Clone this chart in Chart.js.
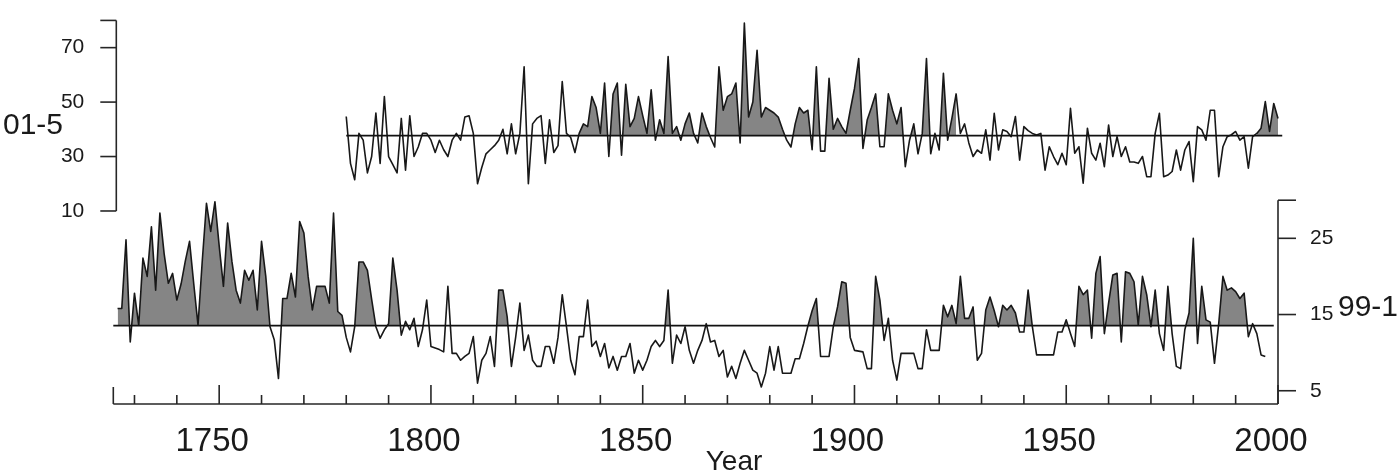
<!DOCTYPE html>
<html>
<head>
<meta charset="utf-8">
<script src="https://cdn.jsdelivr.net/npm/chart.js@4/dist/chart.umd.min.js"></script>
<style>
  html, body { margin: 0; padding: 0; background: #fff; }
</style>
</head>
<body>
<canvas id="chart" width="1400" height="472"></canvas>
<script>
// ---------- data ----------
// upper record (left axis), one value per year from topStart
const topStart = 1780;
const topValues = [
  44.7, 27.5, 21.5, 38.5, 36, 24, 30, 46, 27.5, 52,          // 1780s
  30, 27, 24, 44, 25, 45, 30, 33.5, 38.5, 38.5,              // 1790s
  36, 31.5, 36, 32.5, 30, 36, 38.5, 36, 44.5, 45,            // 1800s
  38.5, 20, 26, 31, 32.5, 34, 36, 40, 31, 42,                // 1810s
  31, 38.5, 63, 20, 42, 44, 45, 27.5, 43.5, 31.5,            // 1820s
  34, 57.5, 38.5, 37, 31.5, 38.5, 42, 41, 52, 48,            // 1830s
  38.5, 57, 30, 53, 57, 30.5, 56.5, 41, 44, 52,              // 1840s
  45, 38.5, 54.5, 36, 43.5, 38.5, 66.7, 38.5, 41, 36,        // 1850s
  42, 46, 38.5, 35, 46, 41, 37, 33.5, 63, 47,                // 1860s
  52, 53, 57, 35, 79, 44.5, 50, 69, 44.5, 48,                // 1870s
  47, 46, 44.5, 40, 36, 33.5, 42, 48, 46, 47,                // 1880s
  32.5, 63, 32, 32, 58.7, 40, 44, 41, 38.5, 47,              // 1890s
  55, 66, 33, 43.4, 48, 53, 33.6, 33.6, 53, 47,              // 1900s
  42, 48, 26.3, 36, 42, 31, 38.5, 66, 31, 38.5,              // 1910s
  32.4, 60.6, 36, 44, 53, 38.5, 42, 35, 30, 32.4,            // 1920s
  31.2, 39.8, 28.7, 45.9, 32.4, 39.8, 39.2, 37.3, 44.7, 28.7,// 1930s
  41, 39.5, 38.5, 37.9, 38.5, 25, 33.6, 30, 27, 31.2,        // 1940s
  27, 47.7, 31.2, 33.6, 20.2, 40.4, 31.2, 28.7, 34.9, 26.3,  // 1950s
  41.6, 30, 37.3, 30, 33.6, 28, 28, 27.5, 30, 22.6,          // 1960s
  22.6, 38.5, 45.9, 22.6, 23.2, 24.5, 32.4, 25, 32.4, 35.5,  // 1970s
  20.8, 41, 39.8, 36, 47, 47, 22.6, 33.6, 37.3, 38,          // 1980s
  39.2, 36, 37.3, 25.7, 37.3, 38.5, 40.4, 50.2, 39.2, 49.5,  // 1990s
  44, 43                                                     // 2000s
];

// lower record (right axis)
const bottomStart = 1726;
const bottomValues = [
  15.8, 15.8, 24.8, 11.4,                                    // 1726-29
  17.8, 13.6, 22.4, 20, 26.5, 18.2, 28.3, 23, 19.1, 20.4,    // 1730s
  16.9, 19, 22, 24.6, 19, 13.6, 22, 29.6, 25.9, 29.8,        // 1740s
  24, 18.7, 27, 22, 18.2, 16.5, 20.8, 19.5, 20.8, 15.6,      // 1750s
  24.6, 20, 13.4, 11.7, 6.6, 17.1, 17.1, 20.4, 17.3, 27.2,   // 1760s
  25.7, 20, 15.6, 18.7, 18.7, 18.7, 16.5, 28.3, 15.4, 14.9,  // 1770s
  12, 10.1, 13.4, 21.9, 21.9, 20.8, 17, 13.4, 11.9, 13,      // 1780s
  13.8, 22.4, 18.2, 12.3, 14.1, 13, 14.5, 10.8, 13, 16.9,    // 1790s
  10.8, 10.6, 10.4, 10.1, 18.7, 9.9, 9.9, 9, 9.5, 9.9,       // 1800s
  12.1, 6, 9, 9.9, 12.1, 8.2, 18.2, 18.2, 14.7, 8.2,         // 1810s
  12, 16.5, 10.3, 12.3, 9, 8.2, 8.2, 10.8, 10.8, 8.6,        // 1820s
  12, 17.6, 13.4, 9, 7.1, 12.1, 12.1, 16.9, 10.8, 11.5,      // 1830s
  9.5, 11.2, 8, 9.5, 7.7, 9.5, 9.5, 11.2, 7.3, 9,            // 1840s
  7.7, 9, 10.8, 11.6, 10.8, 11.6, 18.2, 8.6, 12.3, 11.2,     // 1850s
  13.4, 10.3, 8.6, 10.3, 11.6, 13.8, 11.4, 11.6, 9.5, 10.3,  // 1860s
  6.8, 8.2, 6.6, 8.6, 10.3, 9, 7.7, 7.3, 5.5, 7.3,           // 1870s
  10.8, 7.7, 10.8, 7.3, 7.3, 7.3, 9.2, 9.2, 11.2, 13.5,      // 1880s
  15.5, 17.1, 9.5, 9.5, 9.5, 13.4, 16, 19.3, 19.1, 12,       // 1890s
  10.3, 10.2, 10.1, 7.9, 7.9, 20, 16.9, 11.6, 14.5, 9,       // 1900s
  6.4, 9.9, 9.9, 9.9, 9.9, 7.9, 7.9, 13, 10.3, 10.3,         // 1910s
  10.3, 16.2, 14.7, 16.2, 13.8, 20, 14.5, 14.5, 16, 9,       // 1920s
  9.9, 15.6, 17.3, 15.5, 13.4, 16.2, 15.6, 16.2, 15.2, 12.7, // 1930s
  12.7, 18.2, 13.4, 9.7, 9.7, 9.7, 9.7, 9.7, 12.7, 12.7,     // 1940s
  14.3, 12.5, 10.8, 18.7, 17.6, 18.2, 11.9, 20.4, 22.6, 12.5,// 1950s
  16.5, 20.2, 20.4, 11.4, 20.6, 20.4, 19.3, 13.6, 20, 17.6,  // 1960s
  13.4, 18.2, 12.5, 10.3, 18.7, 12.5, 8.2, 7.9, 13, 15.2,    // 1970s
  25, 11.2, 18.7, 14.3, 14, 8.6, 13.8, 20, 18.2, 18.5,       // 1980s
  18, 17.1, 17.8, 12.1, 13.8, 12.5, 9.7, 9.5                 // 1990-97
];

// reference (mean) lines and the year spans they cover
const topBase = 37.65;
const bottomBase = 13.55;
const topBaseYears = [1780, 2001];
const bottomBaseYears = [1725, 1999];

// periods that are shaded where the record is above its mean
const topShade = [[1835, 1924], [1995, 2001]];
const bottomShade = [[1726, 1797], [1815, 1818], [1855, 1857], [1889, 1907], [1920, 1995]];

// axis ticks and labels
const xMin = 1725, xMax = 2000;
const xTickYears = [1725];
for (let y = 1730; y <= 2000; y += 10) xTickYears.push(y);
const leftTicks = [10, 30, 50, 70];
const leftTop = 80;
const rightTicks = [5, 15, 25];
const rightTop = 30;
const topName = "01-5";
const bottomName = "99-1";
const xTitle = "Year";

// ---------- build ----------
const FONT = "'Liberation Sans', Arial, Helvetica, sans-serif";
const lineColor = "#181818";
const shadeColor = "#858585";

function toPoints(start, values) {
  return values.map((v, i) => ({ x: start + i, y: v }));
}
const topPts = toPoints(topStart, topValues);
const bottomPts = toPoints(bottomStart, bottomValues);

function shadeSets(points, ranges, base, axis) {
  return ranges.map(r => ({
    data: points.filter(p => p.x >= r[0] && p.x <= r[1]),
    yAxisID: axis,
    borderWidth: 0,
    pointRadius: 0,
    tension: 0,
    backgroundColor: shadeColor,
    fill: { target: { value: base }, above: shadeColor, below: "rgba(0,0,0,0)" },
    order: 3,
    clip: false
  }));
}

function seriesSet(points, axis) {
  return {
    data: points,
    yAxisID: axis,
    borderColor: lineColor,
    borderWidth: 1.6,
    borderJoinStyle: "round",
    pointRadius: 0,
    tension: 0,
    fill: false,
    order: 1,
    clip: false
  };
}

function baseSet(years, base, axis) {
  return {
    data: years.map(y => ({ x: y, y: base })),
    yAxisID: axis,
    borderColor: "#111",
    borderWidth: 1.8,
    pointRadius: 0,
    fill: false,
    order: 0,
    clip: false
  };
}

function seg(ctx, x1, y1, x2, y2) {
  ctx.beginPath();
  ctx.moveTo(x1, y1);
  ctx.lineTo(x2, y2);
  ctx.stroke();
}

// axis lines, inward tick marks and the free-standing labels
const axisPlugin = {
  id: "axisLines",
  afterDraw(chart) {
    const { ctx, chartArea, scales } = chart;
    const xs = scales.x, yl = scales.yL, yr = scales.yR;
    const yb = chartArea.bottom;
    ctx.save();
    ctx.strokeStyle = "#262626";
    ctx.lineWidth = 1.6;

    // bottom axis with ticks pointing up
    seg(ctx, chartArea.left, yb, chartArea.right, yb);
    xs.ticks.forEach(t => {
      const px = xs.getPixelForValue(t.value);
      let len = 9;
      if (t.value === xMin) len = 17;
      else if (t.value % 50 === 0) len = 19;
      seg(ctx, px, yb, px, yb - len);
    });

    // left axis, only over its own range
    const lx = chartArea.left + 3;
    seg(ctx, lx, yl.getPixelForValue(leftTicks[0]), lx, yl.getPixelForValue(leftTop));
    leftTicks.concat([leftTop]).forEach(v => {
      const py = yl.getPixelForValue(v);
      seg(ctx, lx - 16, py, lx, py);
    });

    // right axis, from the bottom axis up to its top
    const rx = chartArea.right;
    seg(ctx, rx, yb, rx, yr.getPixelForValue(rightTop));
    rightTicks.concat([rightTop]).forEach(v => {
      const py = yr.getPixelForValue(v);
      seg(ctx, rx, py, rx + 18, py);
    });

    // series names and x title
    ctx.fillStyle = "#1a1a1a";
    ctx.font = "30px " + FONT;
    ctx.textBaseline = "middle";
    ctx.textAlign = "right";
    ctx.fillText(topName, 63, 126);
    ctx.textAlign = "left";
    ctx.fillText(bottomName, 1338, 308);
    ctx.font = "28px " + FONT;
    ctx.textAlign = "center";
    ctx.textBaseline = "alphabetic";
    ctx.fillText(xTitle, 734, 470);
    ctx.restore();
  }
};

const datasets = [].concat(
  [baseSet(topBaseYears, topBase, "yL"), baseSet(bottomBaseYears, bottomBase, "yR")],
  [seriesSet(topPts, "yL"), seriesSet(bottomPts, "yR")],
  shadeSets(topPts, topShade, topBase, "yL"),
  shadeSets(bottomPts, bottomShade, bottomBase, "yR")
);

new Chart(document.getElementById("chart").getContext("2d"), {
  type: "line",
  data: { datasets: datasets },
  options: {
    responsive: false,
    devicePixelRatio: 1,
    animation: false,
    events: [],
    layout: { padding: 0 },
    plugins: {
      legend: { display: false },
      tooltip: { enabled: false }
    },
    scales: {
      x: {
        type: "linear",
        min: xMin,
        max: xMax,
        grid: { display: false },
        border: { display: false },
        afterBuildTicks: s => { s.ticks = xTickYears.map(v => ({ value: v })); },
        afterFit: s => { s.height = 68; s.paddingLeft = 0; s.paddingRight = 0; },
        ticks: {
          autoSkip: false,
          maxRotation: 0,
          padding: 10,
          labelOffset: -7,
          color: "#1a1a1a",
          font: { family: FONT, size: 33 },
          callback: v => (v % 50 === 0 ? String(v) : "")
        }
      },
      yL: {
        type: "linear",
        position: "left",
        min: -60.9,
        max: 87.5,
        grid: { display: false },
        border: { display: false },
        afterBuildTicks: s => { s.ticks = leftTicks.map(v => ({ value: v })); },
        afterFit: s => { s.width = 113.3; s.paddingTop = 0; s.paddingBottom = 0; },
        ticks: { padding: 21, color: "#1a1a1a", font: { family: FONT, size: 21 } }
      },
      yR: {
        type: "linear",
        position: "right",
        min: 3.26,
        max: 56.27,
        grid: { display: false },
        border: { display: false },
        afterBuildTicks: s => { s.ticks = rightTicks.map(v => ({ value: v })); },
        afterFit: s => { s.width = 122; s.paddingTop = 0; s.paddingBottom = 0; },
        ticks: { padding: 24, color: "#1a1a1a", font: { family: FONT, size: 21 } }
      }
    }
  },
  plugins: [axisPlugin]
});
</script>
</body>
</html>
